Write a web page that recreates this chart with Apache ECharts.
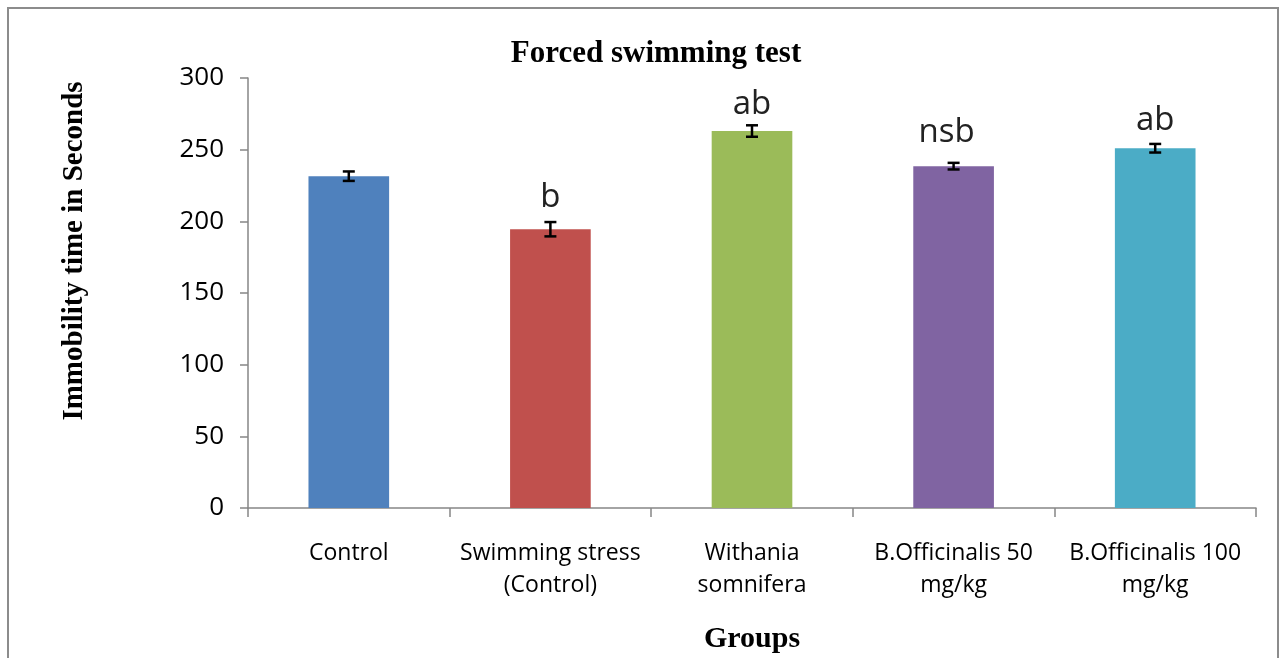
<!DOCTYPE html>
<html>
<head>
<meta charset="utf-8">
<script src="https://cdn.jsdelivr.net/npm/echarts@6/dist/echarts.min.js"></script>
<style>
  html, body { margin: 0; padding: 0; background: #fff; }
  #chart { width: 1286px; height: 658px; }
</style>
</head>
<body>
<div id="chart"></div>
<script>
// Forced swimming test - immobility time per group (mean +/- error)
const categories = [
    'Control',
    'Swimming stress\n(Control)',
    'Withania\nsomnifera',
    'B.Officinalis 50\nmg/kg',
    'B.Officinalis 100\nmg/kg'
];
const means = [231.5, 194.5, 263, 238.5, 251];
const errors = [3.3, 5, 4, 2.3, 3];
const sigLabels = ['', 'b', 'ab', 'nsb', 'ab'];
const labelGaps = [0, 15, 10, 17, 11];
const barColors = ['#4F81BD', '#C0504D', '#9BBB59', '#8064A2', '#4BACC6'];
const yTicks = { min: 0, max: 300, interval: 50 };

const sansFont = '"Open Sans", "DejaVu Sans", sans-serif';
const serifFont = '"Liberation Serif", "Times New Roman", serif';

const chart = echarts.init(document.getElementById('chart'));

const barData = means.map((v, i) => ({
    value: v,
    itemStyle: { color: barColors[i] },
    label: {
        show: sigLabels[i] !== '',
        formatter: sigLabels[i],
        distance: labelGaps[i],
        // "nsb" sits a little left of its bar in the original
        offset: sigLabels[i] === 'nsb' ? [-7, 0] : [0, 0]
    }
}));

const errorData = means.map((v, i) => [i, v - errors[i], v + errors[i]]);

const option = {
    animation: false,
    backgroundColor: '#fff',
    title: {
        text: 'Forced swimming test',
        left: 651,
        top: 33,
        textAlign: 'center',
        textStyle: { fontFamily: serifFont, fontWeight: 'bold', fontSize: 31, color: '#000' }
    },
    graphic: [
        {
            type: 'rect',
            shape: { x: 8, y: 8, width: 1270, height: 700 },
            style: { fill: 'none', stroke: '#8c8c8c', lineWidth: 2 },
            silent: true
        },
        {
            type: 'text',
            x: 75,
            y: 251,
            rotation: Math.PI / 2,
            style: {
                text: 'Immobility time in Seconds',
                fontFamily: serifFont,
                fontWeight: 'bold',
                fontSize: 29,
                fill: '#000',
                align: 'center',
                verticalAlign: 'middle'
            }
        }
    ],
    grid: { left: 248, right: 30, top: 78, bottom: 150, outerBoundsMode: 'none' },
    xAxis: {
        type: 'category',
        data: categories,
        name: 'Groups',
        nameLocation: 'middle',
        nameGap: 116,
        nameTextStyle: { fontFamily: serifFont, fontWeight: 'bold', fontSize: 30, color: '#000' },
        axisLine: { lineStyle: { color: '#868686', width: 1.5 } },
        axisTick: { show: true, alignWithLabel: false, length: 9, lineStyle: { color: '#868686', width: 1.5 } },
        axisLabel: {
            fontFamily: sansFont,
            fontSize: 23,
            color: '#000',
            margin: 29,
            lineHeight: 32,
            interval: 0
        }
    },
    yAxis: {
        type: 'value',
        min: yTicks.min,
        max: yTicks.max,
        interval: yTicks.interval,
        axisLine: { show: true, lineStyle: { color: '#868686', width: 1.5 } },
        axisTick: { show: true, length: 8, lineStyle: { color: '#868686', width: 1.5 } },
        splitLine: { show: false },
        axisLabel: { fontFamily: sansFont, fontSize: 26, color: '#000', margin: 24 }
    },
    series: [
        {
            type: 'bar',
            data: barData,
            barWidth: '40%',
            label: {
                position: 'top',
                fontFamily: sansFont,
                fontSize: 33,
                color: '#222'
            }
        },
        {
            type: 'custom',
            data: errorData,
            z: 10,
            renderItem: function (params, api) {
                const x = api.value(0);
                const lo = api.coord([x, api.value(1)]);
                const hi = api.coord([x, api.value(2)]);
                const cap = 6;
                const style = { stroke: '#000', lineWidth: 2.5 };
                return {
                    type: 'group',
                    children: [
                        { type: 'line', shape: { x1: hi[0], y1: hi[1], x2: lo[0], y2: lo[1] }, style: style },
                        { type: 'line', shape: { x1: hi[0] - cap, y1: hi[1], x2: hi[0] + cap, y2: hi[1] }, style: style },
                        { type: 'line', shape: { x1: lo[0] - cap, y1: lo[1], x2: lo[0] + cap, y2: lo[1] }, style: style }
                    ]
                };
            }
        }
    ]
};

chart.setOption(option);
</script>
</body>
</html>
